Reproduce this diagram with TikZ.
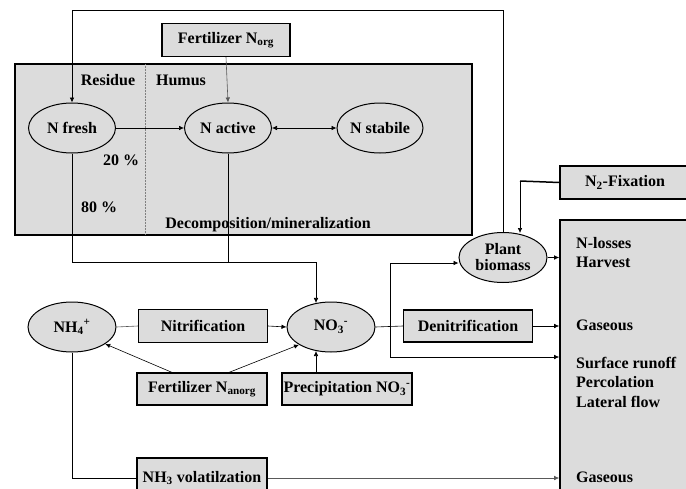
\documentclass[tikz,border=0pt]{standalone}
\usepackage{fontspec}
\setmainfont{Liberation Serif}
\usetikzlibrary{shapes.geometric,arrows.meta}
\definecolor{boxgray}{HTML}{DCDCDC}
\tikzset{
  lbl/.style={font=\bfseries\fontsize{16}{17}\selectfont, inner sep=0pt},
  ell/.style={ellipse, draw, line width=1pt, fill=boxgray, minimum width=88, minimum height=50, inner sep=0pt, lbl},
  box/.style={rectangle, draw, line width=1.2pt, fill=boxgray, minimum width=129, minimum height=33, inner sep=0pt, lbl},
  arr/.style={-{Latex[length=5pt,width=4.5pt]}, line width=0.6pt},
  ln/.style={line width=0.6pt},
}
\begin{document}
\begin{tikzpicture}[x=1pt,y=-1pt]
\useasboundingbox (0,0) rectangle (686,488);
\clip (0,0) rectangle (686,488);
% soil box
\node[rectangle, draw, line width=1.6pt, fill=boxgray, minimum width=457, minimum height=171, inner sep=0pt] (soil) at (243.5,149.5) {};
\coordinate (dtop) at (145,64);
\coordinate (dbot) at (145,235);
\draw[densely dotted, line width=0.5pt, gray] (dtop) -- (dbot);
\node[lbl] (residue) at (108,80) {Residue};
\node[lbl] (humus) at (181,80) {Humus};
\node[box, minimum width=128] (fertorg) at (226,40) {Fertilizer N\textsubscript{org}};
\node[ell, minimum width=87] (nfresh) at (72,128) {N fresh};
\node[ell, minimum width=87] (nactive) at (228,128) {N active};
\node[ell, minimum width=86] (nstabile) at (380,128) {N stabile};
\node[lbl] (p20) at (121,160) {20 \%};
\node[lbl] (p80) at (99,207) {80 \%};
\node[lbl] (decomp) at (268,225) {Decomposition/mineralization};
% lower part
\node[ell] (nh4) at (72,327) {NH\textsubscript{4}\textsuperscript{+}};
\node[box] (nitr) at (203,326) {Nitrification};
\node[ell] (no3) at (331,327) {NO\textsubscript{3}\textsuperscript{-}};
\node[box, minimum width=130, minimum height=32] (fertan) at (202,389) {Fertilizer N\textsubscript{anorg}};
\node[box, minimum width=130, minimum height=32] (prec) at (347,389) {Precipitation NO\textsubscript{3}\textsuperscript{-}};
\node[box, minimum width=130, minimum height=40] (nh3) at (202,478) {NH\textsubscript{3} volatilzation};
\node[ell, align=center, font=\bfseries\fontsize{16}{16}\selectfont] (plant) at (503,257.5) {Plant\\biomass};
\node[box, minimum width=129, minimum height=32] (denit) at (468,326) {Denitrification};
\node[box, minimum width=130] (n2fix) at (625,182.5) {N\textsubscript{2}-Fixation};
\node[rectangle, draw, line width=1.6pt, fill=boxgray, minimum width=130, minimum height=275, inner sep=0pt] (losses) at (625,357.5) {};
\node[lbl, anchor=west] (tl1) at (576,243) {N-losses};
\node[lbl, anchor=west] (tl2) at (576,262) {Harvest};
\node[lbl, anchor=west] (tl3) at (576,325) {Gaseous};
\node[lbl, anchor=west] (tl4) at (576,363) {Surface runoff};
\node[lbl, anchor=west] (tl5) at (576,382) {Percolation};
\node[lbl, anchor=west] (tl6) at (576,402) {Lateral flow};
\node[lbl, anchor=west] (tl7) at (576,477) {Gaseous};
% connectors
\coordinate (topy) at (0,10);
\draw[arr] (plant.north) -- (plant.north |- topy) -| (nfresh.north);
\draw[arr, gray!70!black] (fertorg.south) -- (nactive.north);
\draw[arr] (nfresh.east) -- (nactive.west);
\draw[{Latex[length=5pt,width=4.5pt]}-{Latex[length=5pt,width=4.5pt]}, line width=0.6pt] (nactive.east) -- (nstabile.west);
\coordinate (jy) at (0,262);
\draw[arr] (nfresh.south) |- (no3.122 |- jy) -- (no3.122);
\draw[ln] (nactive.south) -- (nactive.south |- jy);
\draw[ln, gray!70!black] (nh4.east) -- (nitr.west);
\draw[arr] (nitr.east) -- (no3.west);
\draw[arr] ([xshift=-30pt]fertan.north) -- (nh4.-27);
\draw[arr] ([xshift=27pt]fertan.north) -- (no3.209);
\draw[arr] (no3.238 |- prec.north) -- (no3.238);
\draw[ln] (no3.east) -- (denit.west);
\draw[arr] (denit.east) -- (losses.west |- denit.east);
\coordinate (btop) at (390,263);
\coordinate (bbot) at (390,357);
\draw[arr] (btop) -- (plant.west |- btop);
\draw[ln] (btop) -- (bbot);
\draw[arr] (bbot) -- (losses.west |- bbot);
\draw[arr] (plant.east) -- (losses.west |- plant.east);
\coordinate (nx) at (520,181);
\draw[line width=1.5pt] (n2fix.west) -- (nx);
\draw[arr] (nx) -- ++(0,52);
\draw[ln] (nh4.south) |- (nh3.west);
\draw[arr, gray!70!black] (nh3.east) -- (losses.west |- nh3.east);
\end{tikzpicture}
\end{document}
